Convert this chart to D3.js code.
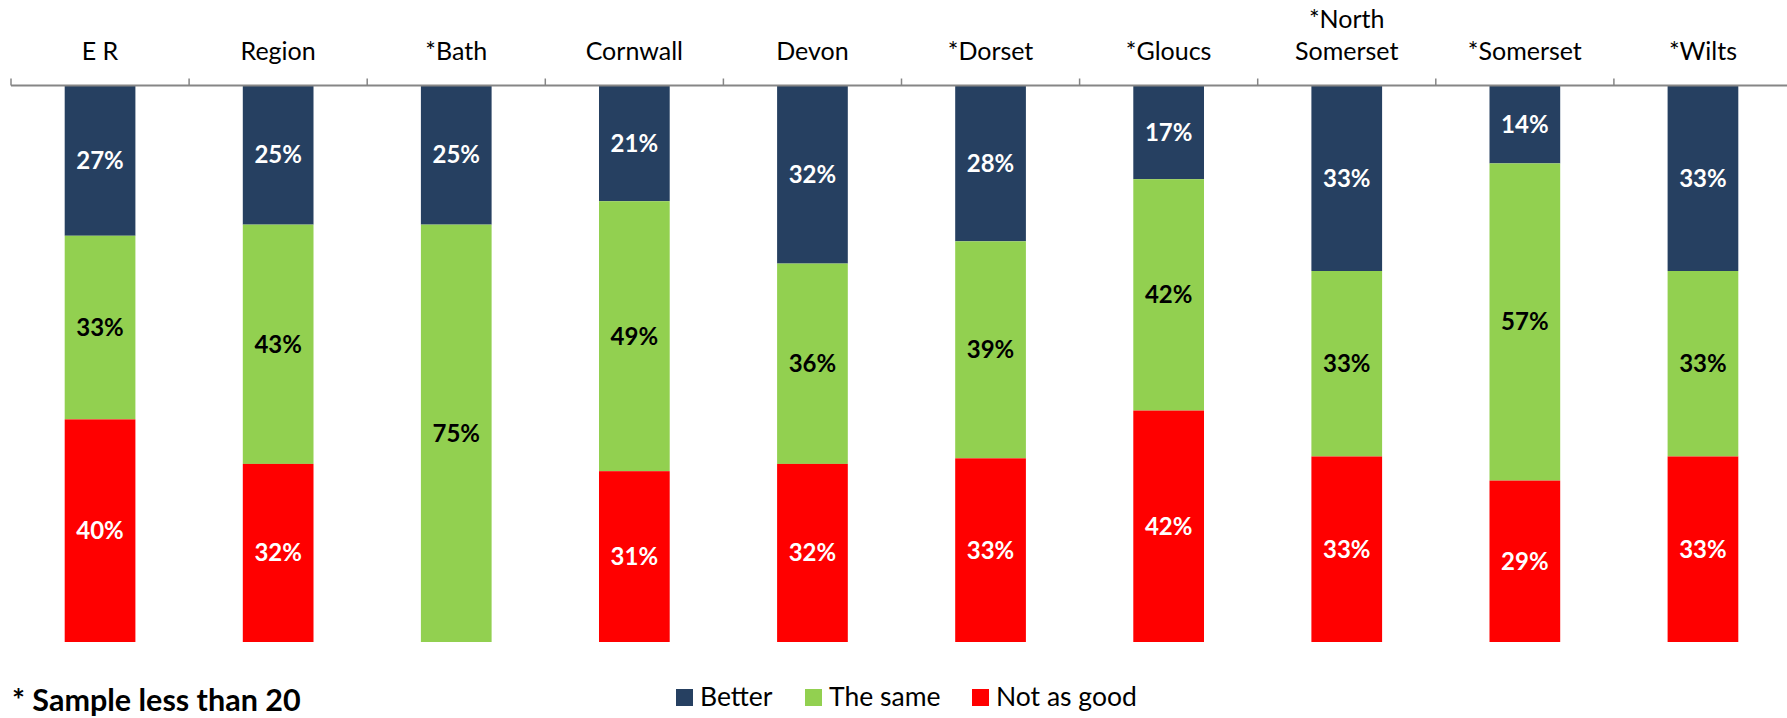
<!DOCTYPE html>
<html><head><meta charset="utf-8">
<script src="https://cdn.jsdelivr.net/npm/d3@7/dist/d3.min.js"></script>
<style>
html,body{margin:0;padding:0;background:#fff;overflow:hidden}
text{font-family:Lato,"Open Sans",sans-serif}
</style></head>
<body><svg id="chart" width="1787" height="718"></svg>
<script>
const categories = ["E R","Region","*Bath","Cornwall","Devon","*Dorset","*Gloucs","*North Somerset","*Somerset","*Wilts"];
const categoryLines = [["E R"],["Region"],["*Bath"],["Cornwall"],["Devon"],["*Dorset"],["*Gloucs"],["*North","Somerset"],["*Somerset"],["*Wilts"]];
const better  = [27,25,25,21,32,28,17,33,14,33];
const same    = [33,43,75,49,36,39,42,33,57,33];
const notGood = [40,32, 0,31,32,33,42,33,29,33];
const seriesNames = ["Better","The same","Not as good"];
const seriesKeys = ["better","same","notGood"];
const colors = ["#264061","#92D050","#FF0000"];
const labelColors = ["#ffffff","#000000","#ffffff"];
const footnote = "* Sample less than 20";

const rows = categories.map((c,i)=>({cat:c, better:better[i], same:same[i], notGood:notGood[i]}));

const svg = d3.select("#chart");
const W = 1787, H = 718;
const plotLeft = 11, step = 178.1, plotTop = 85.5, plotBottom = 642;

const x = d3.scaleBand().domain(categories).range([plotLeft, plotLeft + step*categories.length]).paddingInner(0.603).paddingOuter(0.3015);
const y = d3.scaleLinear().domain([0,1]).range([plotTop, plotBottom]);
const color = d3.scaleOrdinal().domain(seriesKeys).range(colors);

const stack = d3.stack().keys(seriesKeys).offset(d3.stackOffsetExpand);
const series = stack(rows);

const g = svg.append("g");
series.forEach((s, si) => {
  g.selectAll(null).data(s).enter().append("rect")
    .attr("x", d => x(d.data.cat))
    .attr("width", x.bandwidth())
    .attr("y", d => y(d[0]))
    .attr("height", d => Math.max(0, y(d[1]) - y(d[0])))
    .attr("fill", color(s.key));
});
series.forEach((s, si) => {
  g.selectAll(null).data(s.filter(d => d.data[s.key] > 0)).enter().append("text")
    .attr("x", d => x(d.data.cat) + x.bandwidth()/2)
    .attr("y", d => (y(d[0]) + y(d[1]))/2)
    .attr("dy", "0.35em")
    .attr("text-anchor", "middle")
    .attr("font-weight", "bold")
    .attr("font-size", 24)
    .attr("fill", labelColors[si])
    .text(d => d.data[s.key] + "%");
});

// axis at top
const xAxisScale = d3.scaleBand().domain(categories).range([plotLeft, plotLeft + step*categories.length]);
svg.append("line").attr("x1", plotLeft).attr("x2", W).attr("y1", plotTop).attr("y2", plotTop)
  .attr("stroke", "#868686").attr("stroke-width", 2);
const tickX = categories.map(c => xAxisScale(c));
svg.selectAll(null).data(tickX).enter().append("line")
  .attr("x1", d => d).attr("x2", d => d).attr("y1", plotTop - 7).attr("y2", plotTop)
  .attr("stroke", "#868686").attr("stroke-width", 1.5);

const catG = svg.selectAll(null).data(categories).enter().append("text")
  .attr("text-anchor", "middle")
  .attr("font-size", 25)
  .attr("fill", "#000");
catG.each(function(c, i){
  const lines = categoryLines[i];
  const t = d3.select(this);
  lines.forEach((ln, li) => {
    t.append("tspan")
      .attr("x", xAxisScale(c) + xAxisScale.bandwidth()/2)
      .attr("y", 60 - (lines.length - 1 - li)*32)
      .text(ln);
  });
});

// legend
const legendX = [676, 805, 972];
const lg = svg.selectAll(null).data(seriesNames).enter().append("g")
  .attr("transform", (d,i) => `translate(${legendX[i]},0)`);
lg.append("rect").attr("x",0).attr("y",689).attr("width",17).attr("height",17)
  .attr("fill", (d,i) => colors[i]);
lg.append("text").attr("x", 24).attr("y", 706).attr("font-size", 26.5).attr("fill","#000").text(d => d);

svg.append("text").attr("x", 12).attr("y", 711).attr("font-size", 30.5).attr("font-weight","bold")
  .attr("fill","#000").text(footnote);
</script></body></html>
